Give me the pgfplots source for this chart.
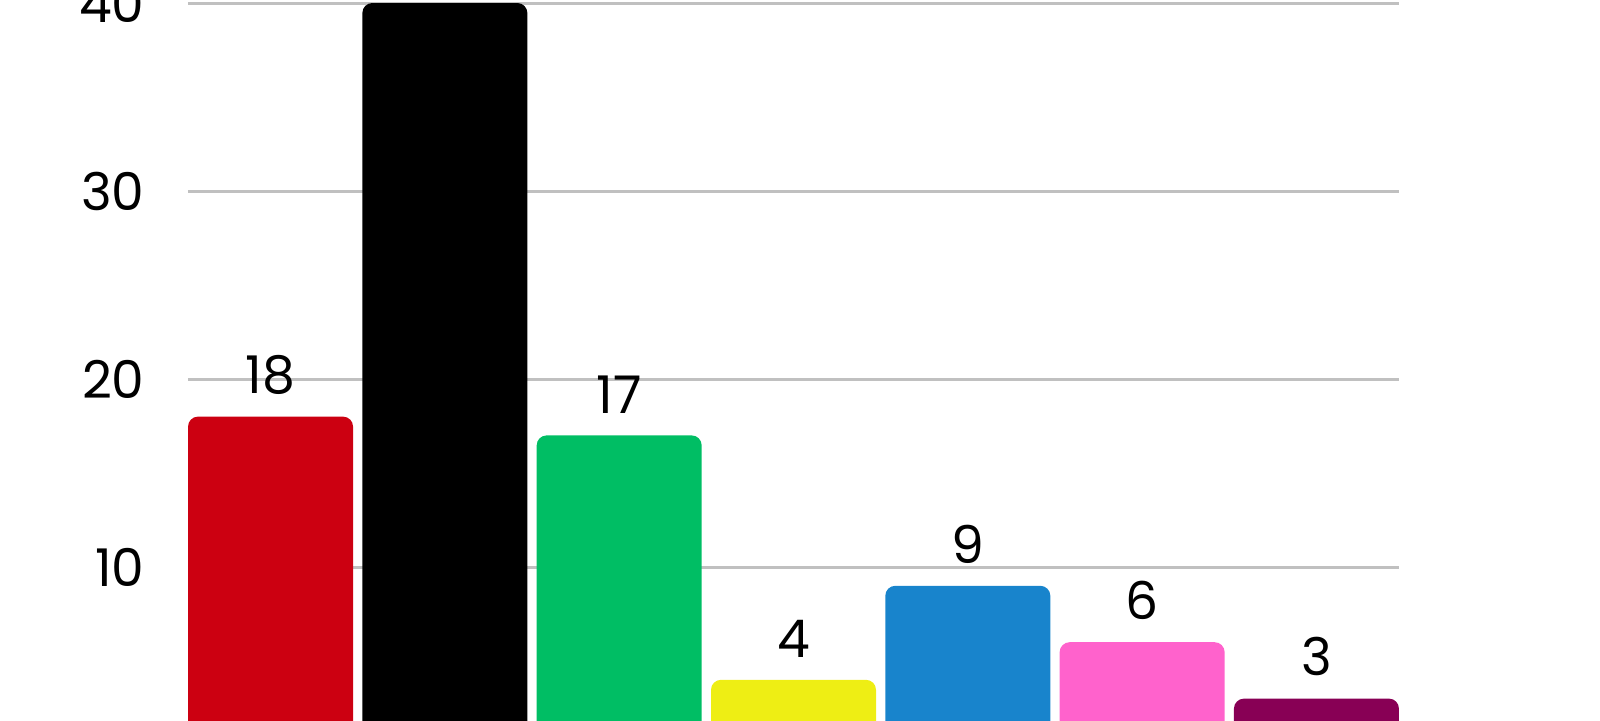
\documentclass[border=0pt]{standalone}
\usepackage{pgfplots}
\pgfplotsset{compat=1.18}
\usepackage{fontspec}
\setmainfont{Poppins}
\definecolor{partyred}{RGB}{204,0,17}
\definecolor{partyblack}{RGB}{0,0,0}
\definecolor{partygreen}{RGB}{0,190,100}
\definecolor{partyyellow}{RGB}{238,238,20}
\definecolor{partyblue}{RGB}{24,132,204}
\definecolor{partypink}{RGB}{255,98,204}
\definecolor{partypurple}{RGB}{136,0,85}
\definecolor{gridgray}{RGB}{192,192,192}

\begin{document}
\begin{tikzpicture}
	\begin{axis}[
		name=ax,
		scale only axis,
		width=605.5pt, height=377.5pt,
		xmin=-0.4735, xmax=6.4735,
		ymin=0, ymax=40.16,
		ybar, bar width=82.5pt, bar shift=0pt,
		axis line style={draw=none},
		tick style={draw=none},
		xtick=\empty,
		ytick={10,20,30,40},
		ymajorgrids,
		grid style={line width=1.5pt, gridgray},
		/pgf/number format/assume math mode=true,
		yticklabel style={font=\fontsize{26}{30}\selectfont, anchor=east, inner sep=0pt, xshift=-21.5pt},
		nodes near coords,
		every node near coord/.append style={font=\fontsize{26}{30}\selectfont, anchor=south, inner sep=0pt, yshift=11pt, black},
		every axis plot/.append style={draw=none, rounded corners=5pt},
	]
	% one plot per party so each bar gets its own colour
	\addplot[fill=partyred] coordinates {(0,18)};
	\addplot[fill=partyblack] coordinates {(1,40)};
	\addplot[fill=partygreen] coordinates {(2,17)};
	\addplot[fill=partyyellow] coordinates {(3,4)};
	\addplot[fill=partyblue] coordinates {(4,9)};
	\addplot[fill=partypink] coordinates {(5,6)};
	\addplot[fill=partypurple] coordinates {(6,3)};
	\end{axis}
	% the reference is cropped just above value 2, so cut the page there
	\pgfresetboundingbox
	\path[use as bounding box] ([xshift=-94pt]ax.north west) rectangle ([xshift=100.5pt,yshift=-360pt]ax.north east);
\end{tikzpicture}
\end{document}
